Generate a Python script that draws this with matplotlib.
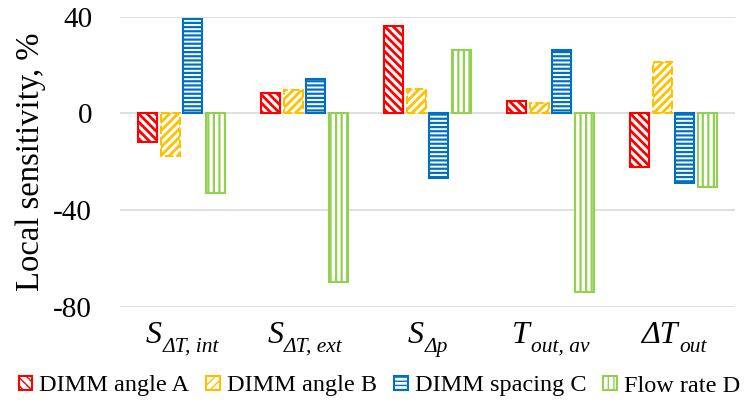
import matplotlib
matplotlib.use("Agg")
import matplotlib.pyplot as plt
import numpy as np
from matplotlib.patches import Patch
from matplotlib.transforms import IdentityTransform

# Sensitivity data (%), one list per parameter
categories = ["S|ΔT, int", "S|ΔT, ext", "S|Δp", "T|out, av", "ΔT|out"]
series_names = ["DIMM angle A", "DIMM angle B", "DIMM spacing C", "Flow rate D"]
angle_a = [-12, 8.3, 36.3, 5.2, -22]
angle_b = [-17.5, 9.7, 10, 4.5, 21.4]
spacing_c = [39, 14.2, -26.8, 26.2, -28.6]
flow_d = [-33, -69.5, 26.2, -74, -30.5]
yticks = [-80, -40, 0, 40]

colors = ["#FF0000", "#FFC000", "#0070C0", "#92D050"]
hatches = ["\\\\\\\\", "////", "----", "|||"]
edge_styles = ["-", (0, (4, 1.5)), "-", "-"]

serif = "Liberation Serif"
fig = plt.figure(figsize=(7.5, 4.05), dpi=100)
ax = fig.add_axes([0.16, 0.242, 0.82, 0.717])

x = np.arange(len(categories))
width = 0.155
step = 0.183
all_vals = [angle_a, angle_b, spacing_c, flow_d]
for i, vals in enumerate(all_vals):
    bars = ax.bar(x + (i - 1.5) * step, vals, width, facecolor="white",
                  edgecolor=colors[i], hatch=hatches[i], linewidth=1.5,
                  linestyle=edge_styles[i], zorder=3)
    for b in bars:
        if hasattr(b, "set_hatch_linewidth"):
            b.set_hatch_linewidth(2.0 if i < 2 else 1.6)

ax.set_xlim(-0.5, len(categories) - 0.5)
ax.set_ylim(-80, 40)
ax.set_yticks(yticks)
ax.set_yticklabels([str(v) for v in yticks], family=serif, fontsize=21)
ax.tick_params(axis="y", length=0, pad=20)
ax.set_xticks([])
ax.grid(axis="y", color="#D9D9D9", linewidth=1.2, zorder=0)
for s in ax.spines.values():
    s.set_visible(False)
ax.set_ylabel("Local sensitivity, %", family=serif, fontsize=23.5, labelpad=5)

# italic category labels with subscripts
fig.canvas.draw()
r = fig.canvas.get_renderer()
base_y = 405 - 343
for xc, lab in zip(x, categories):
    main, sub = lab.split("|")
    t1 = fig.text(0, 0, main, transform=IdentityTransform(), family=serif,
                  style="italic", fontsize=23, va="baseline")
    t2 = fig.text(0, 0, sub, transform=IdentityTransform(), family=serif,
                  style="italic", fontsize=15.5, va="baseline")
    w1 = t1.get_window_extent(r).width
    w2 = t2.get_window_extent(r).width
    x0 = ax.transData.transform((xc, 0))[0] - (w1 + w2) / 2
    t1.set_position((x0, base_y))
    t2.set_position((x0 + w1 + 1, base_y - 9))

handles = [Patch(facecolor="white", edgecolor=c, hatch=h, linewidth=1.5)
           for c, h in zip(colors, hatches)]
fig.legend(handles, series_names, loc="center", bbox_to_anchor=(0.506, 1 - 386 / 405),
           ncol=4, frameon=False, prop={"family": serif, "size": 17.5},
           handlelength=0.55, handleheight=0.55, handletextpad=0.3, columnspacing=0.7,
           borderaxespad=0, borderpad=0)

fig.savefig("out.png", dpi=100)
